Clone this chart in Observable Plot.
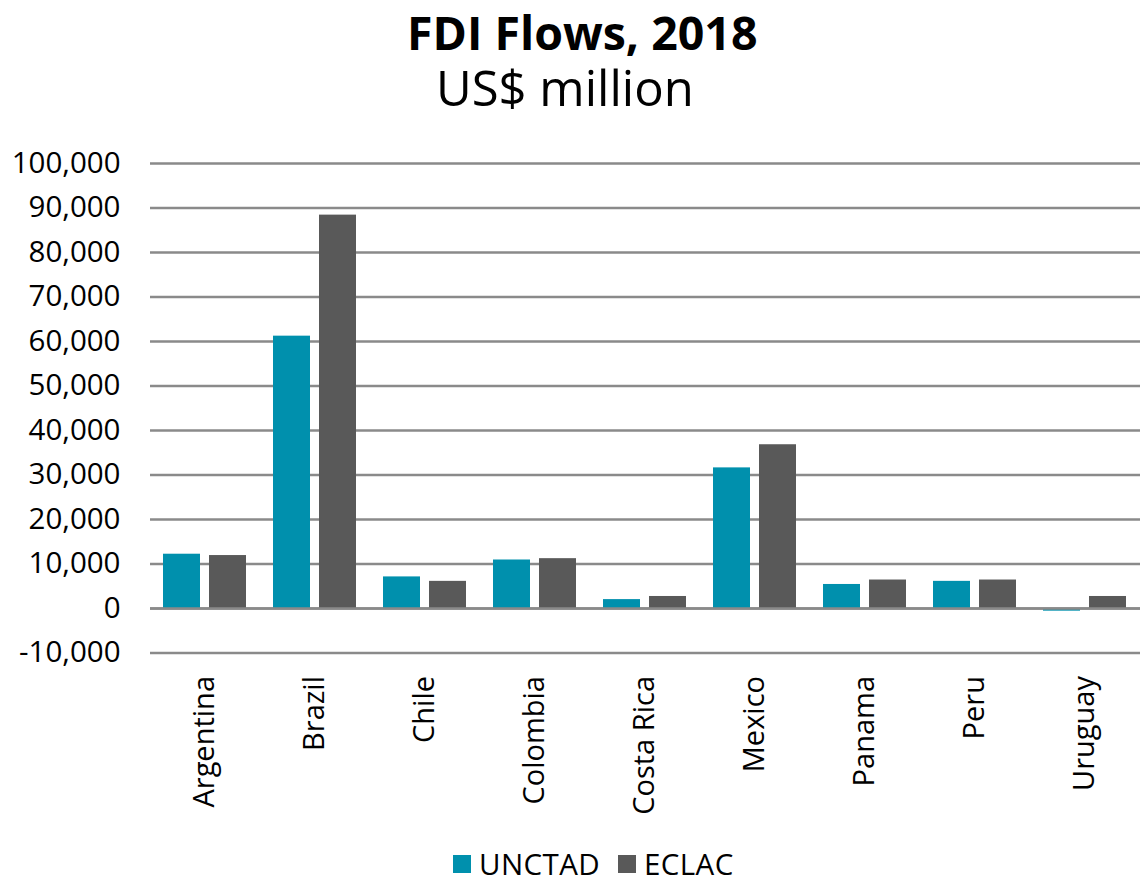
<!DOCTYPE html>
<html>
<head>
<meta charset="utf-8">
<script src="https://cdn.jsdelivr.net/npm/d3@7"></script>
<script src="https://cdn.jsdelivr.net/npm/@observablehq/plot@0.6"></script>
<style>
  html, body { margin: 0; padding: 0; background: #fff; }
  body { width: 1141px; height: 883px; position: relative; overflow: hidden; font-family: "Open Sans", sans-serif; color: #000; }
  #title { position: absolute; left: 407px; top: 9px; white-space: nowrap; font-weight: 700; font-size: 46.5px; line-height: 1; }
  #subtitle { position: absolute; left: 436px; top: 63px; white-space: nowrap; font-weight: 400; font-size: 49px; line-height: 1; }
  #chart { position: absolute; left: 0; top: 120px; }
  #legend { position: absolute; left: 453px; top: 849px; display: flex; align-items: center; font-size: 29.5px; letter-spacing: 0.4px; line-height: 1; white-space: nowrap; }
  .item { display: flex; align-items: center; margin-right: 18px; }
  .sw { width: 18px; height: 18px; margin-right: 8px; }
</style>
</head>
<body>
<div id="title">FDI Flows, 2018</div>
<div id="subtitle">US$ million</div>
<div id="chart"></div>
<div id="legend"></div>
<script>
const countries = ["Argentina", "Brazil", "Chile", "Colombia", "Costa Rica", "Mexico", "Panama", "Peru", "Uruguay"];
const unctad = [12200, 61200, 7100, 10900, 2000, 31600, 5400, 6100, -600];
const eclac  = [11900, 88400, 6100, 11200, 2700, 36800, 6400, 6400, 2700];
const seriesNames = ["UNCTAD", "ECLAC"];
const seriesColors = ["#0090ad", "#595959"];
const yTicks = [-10000, 0, 10000, 20000, 30000, 40000, 50000, 60000, 70000, 80000, 90000, 100000];

const unctadData = countries.map((c, i) => ({country: c, value: unctad[i]}));
const eclacData = countries.map((c, i) => ({country: c, value: eclac[i]}));

const chart = Plot.plot({
  width: 1141,
  height: 720,
  marginTop: 43,
  marginBottom: 187.5,
  marginLeft: 150,
  marginRight: 1,
  style: {fontFamily: "'Open Sans', sans-serif", background: "transparent", color: "#000"},
  x: {domain: countries, paddingInner: 0.245, paddingOuter: 0.1225, label: null},
  y: {domain: [-10000, 100000], label: null},
  marks: [
    Plot.ruleY(yTicks, {stroke: "#8a8a8a", strokeWidth: 2.5}),
    Plot.barY(unctadData, {x: "country", y: "value", fill: seriesColors[0], insetRight: 46}),
    Plot.barY(eclacData, {x: "country", y: "value", fill: seriesColors[1], insetLeft: 46}),
    Plot.ruleY([0], {stroke: "#8a8a8a", strokeWidth: 2.5}),
    Plot.axisY(yTicks, {tickSize: 0, tickPadding: 30, fontSize: 29.5, tickFormat: d => d.toLocaleString("en-US"), label: null}),
    Plot.axisX({tickRotate: -90, tickSize: 0, tickPadding: 23, fontSize: 29, label: null})
  ]
});
document.getElementById("chart").appendChild(chart);

const legend = document.getElementById("legend");
seriesNames.forEach((name, i) => {
  const item = document.createElement("div");
  item.className = "item";
  const sw = document.createElement("div");
  sw.className = "sw";
  sw.style.background = seriesColors[i];
  const label = document.createElement("span");
  label.textContent = name;
  item.appendChild(sw);
  item.appendChild(label);
  legend.appendChild(item);
});
</script>
</body>
</html>
